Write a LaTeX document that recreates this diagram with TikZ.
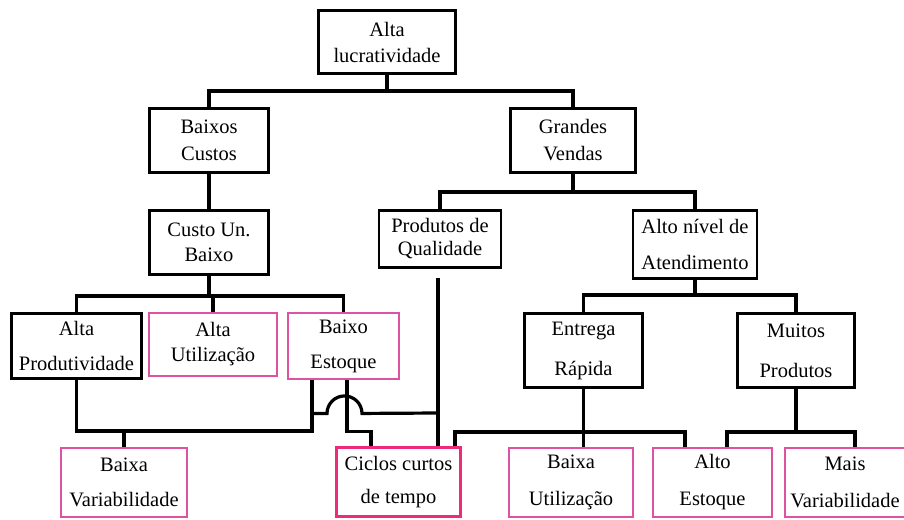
\documentclass[tikz,border=0pt]{standalone}
\usepackage{fontspec}
\setmainfont{Liberation Serif}
\definecolor{rosa}{RGB}{222,82,162}
\definecolor{rosaforte}{RGB}{236,44,122}
\begin{document}
\begin{tikzpicture}[x=1pt,y=-1pt,
  caixa/.style={draw,line width=2.9pt,align=center,inner sep=0pt,
    font=\fontsize{20.5}{25}\selectfont},
  meta/.style={caixa,draw=rosa,line width=2.9pt},
  ciclo/.style={caixa,draw=rosaforte,line width=3.6pt},
  liga/.style={line width=3.2pt}]
\useasboundingbox (0,0) rectangle (904,519);
% nivel 1 e 2
\node[caixa,minimum width=137,minimum height=63] (topo) at (387,42) {Alta\\[1pt]lucratividade};
\node[caixa,minimum width=119,minimum height=64] (custos) at (209,140.5) {Baixos\\[2pt]Custos};
\node[caixa,minimum width=125,minimum height=64] (vendas) at (573,140.5) {Grandes\\[2pt]Vendas};
% nivel 3
\node[caixa,minimum width=119,minimum height=64] (unit) at (209,242.5) {Custo Un.\\Baixo};
\node[caixa,minimum width=122,minimum height=57] (qual) at (440,239) {Produtos de\\[-2pt]Qualidade};
\node[caixa,minimum width=124,minimum height=68] (atend) at (695,244.5) {Alto nível de\\[11pt]Atendimento};
% nivel 4
\node[caixa,minimum width=130,minimum height=65] (prod) at (76.5,346) {Alta\\[10pt]Produtividade};
\node[meta,minimum width=128,minimum height=63] (util) at (213,344.5) {Alta\\Utilização};
\node[meta,minimum width=111,minimum height=66] (estq) at (343.5,346) {Baixo\\[10pt]Estoque};
\node[caixa,minimum width=118,minimum height=74] (entr) at (583.5,350.5) {Entrega\\[15pt]Rápida};
\node[caixa,minimum width=117,minimum height=74] (muit) at (796,350.5) {Muitos\\[15pt]Produtos};
% nivel 5
\node[meta,minimum width=126,minimum height=69] (bvar) at (124,482.5) {Baixa\\[10pt]Variabilidade};
\node[ciclo,minimum width=124,minimum height=69] (cicl) at (398.5,482) {Ciclos curtos\\[8pt]de tempo};
\node[meta,minimum width=124,minimum height=69] (butil) at (571,482.5) {Baixa\\[12pt]Utilização};
\node[meta,minimum width=119,minimum height=69] (aest) at (712.5,482.5) {Alto\\[12pt]Estoque};
\node[meta,minimum width=120,minimum height=69] (mvar) at (845,482.5) {Mais\\[12pt]Variabilidade};
% ligacoes
\draw[liga] (topo.south) -- ++(0,16) -| (custos.north);
\draw[liga] (topo.south) -- ++(0,16) -| (vendas.north);
\draw[liga] (custos) -- (unit);
\draw[liga] (vendas.south) -- ++(0,18) -| (qual.north);
\draw[liga] (vendas.south) -- ++(0,18) -| (atend.north);
\draw[liga] (unit.south) -- ++(0,20) -| (prod.north);
\draw[liga] (unit.south) -- ++(0,20) -| (util.north);
\draw[liga] (unit.south) -- ++(0,20) -| (estq.north);
\draw[liga] (atend.south) -- ++(0,15) -| (entr.north);
\draw[liga] (atend.south) -- ++(0,15) -| (muit.north);
\draw[liga] (prod.south) -- ++(0,51) -| ([xshift=-31.5pt]estq.south);
\draw[liga] (bvar.north) -- ++(0,-16);
\draw[liga] ([xshift=-31.5pt]estq.south) ++(0,33) -- ++(15,0)
  arc[start angle=180,end angle=0,radius=17.5pt] -- ([xshift=-2pt]qual.south |- 0,413);
\draw[liga] ([xshift=3.5pt]estq.south) -- ++(0,51) -| ([xshift=-27.5pt]cicl.north);
\draw[liga] ([xshift=-2pt,yshift=-9pt]qual.south) -- ([xshift=-2pt]qual.south |- cicl.north);
\draw[liga] (entr.south) -- ++(0,43) -| ([xshift=56.5pt]cicl.north);
\draw[liga] (entr.south) -- ++(0,43) -| ([xshift=-27.5pt]aest.north);
\draw[liga] (entr.south) -- (entr.south |- butil.north);
\draw[liga] (muit.south) -- ++(0,43) -| ([xshift=14.5pt]aest.north);
\draw[liga] (muit.south) -- ++(0,43) -| ([xshift=10pt]mvar.north);
\end{tikzpicture}
\end{document}
